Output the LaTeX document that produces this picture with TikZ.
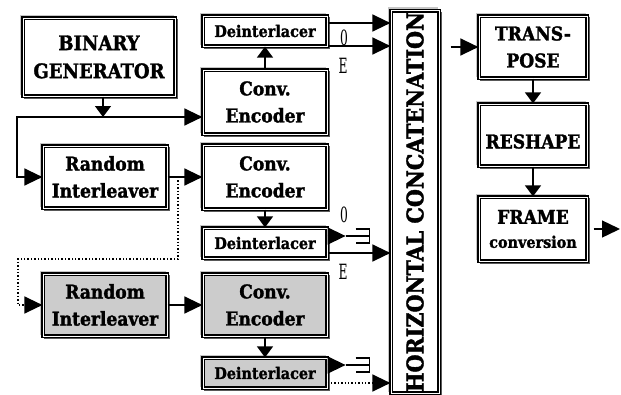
\documentclass[tikz,border=0pt]{standalone}
\usepackage{fontspec}
\usetikzlibrary{arrows.meta, calc, shadows}
\newfontfamily\boxfont[FakeBold=1.6]{DejaVuSerifCondensed-Bold.ttf}
\newfontfamily\labfont[FakeStretch=0.65]{DejaVuSerifCondensed.ttf}

\tikzset{
  block/.style={draw=black, line width=1.2pt, double=white, double distance=1pt,
    fill=white, align=center, inner sep=1pt,
    font=\boxfont\fontsize{19}{27}\selectfont,
    general shadow={shadow xshift=-2.5pt, shadow yshift=2.5pt, draw=gray!45, line width=2pt, fill=white},
    general shadow={shadow xshift=2pt, shadow yshift=-2pt, draw=black!65, line width=1.6pt, fill=white}},
  shaded/.style={block, fill=gray!40},
  deint/.style={minimum width=124, minimum height=30, font=\boxfont\fontsize{16}{18}\selectfont},
  arr/.style={line width=1.4pt, -{Triangle[length=18pt,width=17pt]}},
  down/.style={line width=1.4pt, -{Triangle[length=11pt,width=16pt]}},
  dots/.style={line width=1.4pt, dash pattern=on 1.4pt off 2pt, -{Triangle[length=18pt,width=17pt]}},
  lab/.style={font=\labfont\fontsize{21}{23}\selectfont, inner sep=0pt},
  term/.pic={\draw[line width=1.4pt] (0,0) -- (24,0) (10,-7) -- (24,-7) -- (24,7) -- (10,7);}
}

\begin{document}
\begin{tikzpicture}[x=1pt, y=-1pt]
  \useasboundingbox (0,0) rectangle (621,394);

  % source and first encoder branch
  \node[block, minimum width=152, minimum height=78, font=\boxfont\fontsize{20}{28}\selectfont]
    (bin) at (99,57) {BINARY\\GENERATOR};
  \node[block, deint] (deint1) at (265,31) {Deinterlacer};
  \node[block, minimum width=124, minimum height=64] (ce1) at (265,102) {Conv.\\Encoder};

  % interleaved branch
  \node[block, minimum width=124, minimum height=62] (ri1) at (105,177) {Random\\Interleaver};
  \node[block, minimum width=124, minimum height=64] (ce2) at (265,177) {Conv.\\Encoder};
  \node[block, deint] (deint2) at (265,243) {Deinterlacer};

  % optional third branch, greyed
  \node[shaded, minimum width=124, minimum height=62] (ri2) at (105,305) {Random\\Interleaver};
  \node[shaded, minimum width=124, minimum height=62] (ce3) at (265,305) {Conv.\\Encoder};
  \node[shaded, deint] (deint3) at (265,373) {Deinterlacer};

  % concatenation and framing
  \node[block, minimum width=48, minimum height=372, font=\boxfont\fontsize{23}{25}\selectfont]
    (concat) at (415,202) {\rotatebox{90}{HORIZONTAL CONCATENATION}};
  \node[block, minimum width=108, minimum height=62] (trans) at (533,47) {TRANS-\\POSE};
  \node[block, minimum width=108, minimum height=62] (reshape) at (533,135) {\mbox{}\\RESHAPE};
  \node[block, minimum width=108, minimum height=64] (frame) at (533,229)
    {FRAME\\[-3pt]{\fontsize{16}{18}\selectfont conversion}};

  % splitting the source bits
  \coordinate (split) at (103,117);
  \coordinate (lft) at (17,117);
  \draw[down] (bin.south -| split) -- (split);
  \draw[arr] (split) -- (split -| ce1.west);
  \draw[arr] (split) -- (lft) |- (ri1.west);
  \draw[arr] (ri1) -- (ce2);

  % dotted feed to the third branch
  \coordinate (tap) at (178,177);
  \coordinate (low) at (18,259);
  \draw[dots] (tap) |- (low) |- (ri2.west);
  \draw[arr] (ri2) -- (ce3);

  % encoders into deinterlacers
  \draw[down] (ce1) -- (deint1);
  \draw[down] (ce2) -- (deint2);
  \draw[down] (ce3) -- (deint3);

  % deinterlacer outputs
  \draw[arr] ([yshift=8pt]deint1.east) -- ([yshift=8pt]deint1.east -| concat.west);
  \draw[arr] ([yshift=-15pt]deint1.east) -- ([yshift=-15pt]deint1.east -| concat.west);
  \node[lab] (o1) at (344,38) {0};
  \node[lab] (e1) at (343,66) {E};

  \draw[arr] ([yshift=7pt]deint2.east) -- ++(18,0) coordinate (t2);
  \pic at (t2) {term};
  \draw[arr] ([yshift=-10pt]deint2.east) -- ([yshift=-10pt]deint2.east -| concat.west);
  \node[lab] (o2) at (344,215) {0};
  \node[lab] (e2) at (343,272) {E};

  \draw[arr] ([yshift=8pt]deint3.east) -- ++(18,0) coordinate (t3);
  \pic at (t3) {term};
  \draw[dots] ([yshift=-10pt]deint3.east) -- ([yshift=-10pt]deint3.east -| concat.west);

  % framing chain
  \draw[arr, shorten <=11pt] (concat.east |- trans.west) -- (trans.west);
  \draw[down] (trans) -- (reshape);
  \draw[down] (reshape) -- (frame);
  \coordinate (out) at (620,229);
  \draw[arr, shorten <=6pt] (frame.east) -- (out);
\end{tikzpicture}
\end{document}
